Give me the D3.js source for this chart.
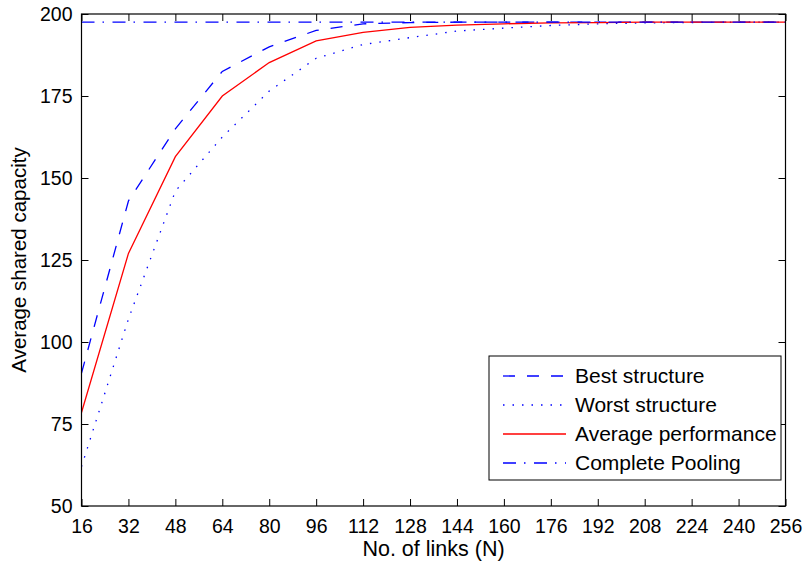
<!DOCTYPE html>
<html>
<head>
<meta charset="utf-8">
<script src="https://cdn.jsdelivr.net/npm/d3@7/dist/d3.min.js"></script>
<style>
  body { margin: 0; background: #fff; }
  svg { display: block; font-family: "Liberation Sans", Arial, sans-serif; }
</style>
</head>
<body>
<svg id="chart" width="807" height="563"></svg>
<script>
var links = [16, 32, 48, 64, 80, 96, 112, 128, 144, 160, 176, 192, 208, 224, 240, 256];
var bestStructure = [90.5, 143, 165, 182.5, 190, 195, 197, 197.4, 197.5, 197.5, 197.5, 197.5, 197.5, 197.5, 197.5, 197.5];
var worstStructure = [62, 107, 146, 162.5, 176.5, 186.5, 190.7, 192.8, 194.8, 195.7, 196.5, 197, 197.3, 197.4, 197.5, 197.5];
var averagePerformance = [78.5, 127, 156.5, 175, 185.2, 191.8, 194.4, 195.9, 196.6, 197, 197.3, 197.4, 197.5, 197.5, 197.5, 197.5];
var completePooling = [197.5, 197.5, 197.5, 197.5, 197.5, 197.5, 197.5, 197.5, 197.5, 197.5, 197.5, 197.5, 197.5, 197.5, 197.5, 197.5];
var yTicks = [50, 75, 100, 125, 150, 175, 200];

var series = [
    { name: "Best structure", values: bestStructure, color: "#0000ff", dash: "12,12" },
    { name: "Worst structure", values: worstStructure, color: "#0000ff", dash: "1.5,8" },
    { name: "Average performance", values: averagePerformance, color: "#ff0000", dash: null },
    { name: "Complete Pooling", values: completePooling, color: "#0000ff", dash: "13,8,1.5,8.5" }
];

var margin = { top: 14, right: 21.5, bottom: 57, left: 81.5 };
var svg = d3.select("#chart");
var width = +svg.attr("width") - margin.left - margin.right;
var height = +svg.attr("height") - margin.top - margin.bottom;

var x = d3.scaleLinear().domain([16, 256]).range([0, width]);
var y = d3.scaleLinear().domain([50, 200]).range([height, 0]);

var g = svg.append("g").attr("transform", "translate(" + margin.left + "," + margin.top + ")");

// ticks on all four sides, pointing inwards like matlab
var xb = g.append("g").attr("transform", "translate(0," + height + ")")
    .call(d3.axisBottom(x).tickValues(links).tickSizeInner(-7).tickSizeOuter(0).tickPadding(13));
var xt = g.append("g")
    .call(d3.axisTop(x).tickValues(links).tickSizeInner(-7).tickSizeOuter(0).tickFormat(""));
var yl = g.append("g")
    .call(d3.axisLeft(y).tickValues(yTicks).tickSizeInner(-7).tickSizeOuter(0).tickPadding(9));
var yr = g.append("g").attr("transform", "translate(" + width + ",0)")
    .call(d3.axisRight(y).tickValues(yTicks).tickSizeInner(-7).tickSizeOuter(0).tickFormat(""));

[xb, xt, yl, yr].forEach(function (a) {
    a.select(".domain").remove();
    a.selectAll(".tick line").attr("stroke", "#000").attr("stroke-width", 1);
    a.selectAll("text").attr("fill", "#000").style("font-size", "19.5px");
});
xb.selectAll("text").attr("dy", "0.71em");

var line = d3.line()
    .x(function (d, i) { return x(links[i]); })
    .y(function (d) { return y(d); });

g.selectAll(".series")
    .data(series)
    .enter().append("path")
    .attr("class", "series")
    .attr("fill", "none")
    .attr("stroke", function (d) { return d.color; })
    .attr("stroke-width", 1.3)
    .attr("stroke-dasharray", function (d) { return d.dash; })
    .attr("d", function (d) { return line(d.values); });

g.append("rect")
    .attr("width", width).attr("height", height)
    .attr("fill", "none").attr("stroke", "#000").attr("stroke-width", 1.2);

svg.append("text")
    .attr("x", margin.left + width / 2).attr("y", 556)
    .attr("text-anchor", "middle")
    .style("font-size", "21.5px")
    .text("No. of links (N)");

svg.append("text")
    .attr("transform", "translate(26," + (margin.top + height / 2) + ") rotate(-90)")
    .attr("text-anchor", "middle")
    .style("font-size", "20.5px")
    .text("Average shared capacity");

// legend
var lg = svg.append("g").attr("transform", "translate(489,356)");
lg.append("rect")
    .attr("width", 292).attr("height", 124)
    .attr("fill", "#fff").attr("stroke", "#000").attr("stroke-width", 1);

var item = lg.selectAll(".item")
    .data(series)
    .enter().append("g")
    .attr("class", "item")
    .attr("transform", function (d, i) { return "translate(0," + (20 + i * 29) + ")"; });
item.append("line")
    .attr("x1", 14).attr("x2", 77)
    .attr("stroke", function (d) { return d.color; })
    .attr("stroke-width", 1.3)
    .attr("stroke-dasharray", function (d) { return d.dash; });
item.append("text")
    .attr("x", 86).attr("dy", "0.35em")
    .style("font-size", "21px")
    .text(function (d) { return d.name; });
</script>
</body>
</html>
